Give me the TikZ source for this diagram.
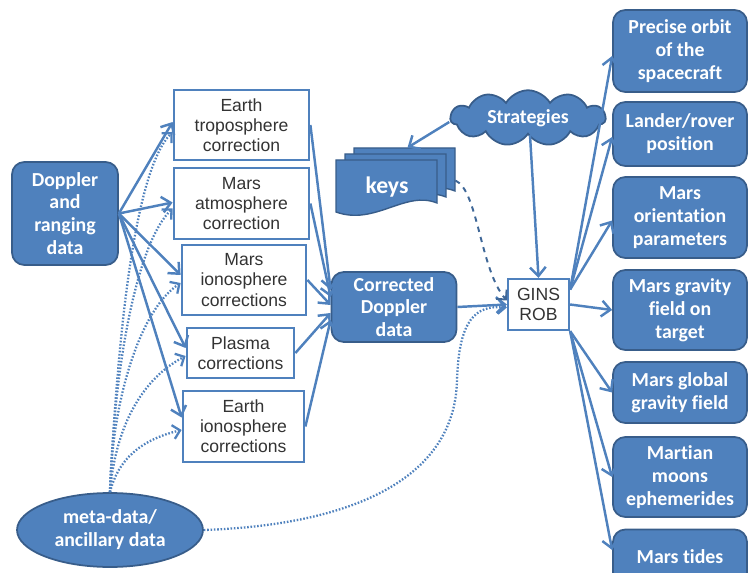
\documentclass[tikz,border=0pt]{standalone}
\usepackage{fontspec}
\setmainfont{Liberation Sans}
\newfontfamily\calib[Ligatures=NoCommon]{Carlito}
\usetikzlibrary{arrows.meta,shapes.geometric,shapes.symbols}
\definecolor{offblue}{HTML}{4F81BD}
\definecolor{offdark}{HTML}{385D8A}
\definecolor{boxtext}{HTML}{333333}

\begin{document}
\begin{tikzpicture}[x=0.02cm, y=0.02cm,
    bluebox/.style={draw=offdark, line width=1pt, fill=offblue, rounded corners=7pt, text=white,
      font=\calib\bfseries\fontsize{11.3}{13}\selectfont, align=center, inner sep=0pt},
    whitebox/.style={draw=offblue, line width=1.6pt, fill=white, text=boxtext,
      font=\fontsize{10}{11.5}\selectfont, align=center, inner sep=0pt},
    flowarrow/.style={draw=offblue, line width=1.4pt, -{Straight Barb[length=5pt,width=9pt]}},
    anclink/.style={draw=offblue, line width=1.3pt, dash pattern=on 0.9pt off 1pt, -{Straight Barb[length=4pt,width=8pt]}},
    keylink/.style={draw=offblue!80!black, line width=1.1pt, dashed, -{Straight Barb[length=4pt,width=8pt]}},
  ]
            \useasboundingbox (0,0) rectangle (749,-573);
            \foreach \dx/\dy in {18/12, 9/6, 0/0}
              \filldraw[fill=offblue, draw=offdark, line width=0.8pt, shift={(\dx,\dy)}]
                (336,-160) -- (437,-160) -- (437,-203) .. controls (405,-190) and (375,-226) .. (336,-212) -- cycle;
            \draw (395.5,-180.5) node[minimum width=2.38cm, minimum height=1.3cm, inner sep=0pt] (keys) {};
            \draw (387,-187) node[text=white, font=\calib\bfseries\fontsize{13.5}{15}\selectfont] (keystxt) {keys};

            \draw (65,-213.5) node[bluebox, minimum width=2.12cm, minimum height=2.06cm] (dopp) {Doppler\\and\\ranging\\data};
            \draw (110,-530) node[bluebox, ellipse, rounded corners=0pt, minimum width=3.72cm, minimum height=1.48cm] (meta) {meta-data/\\ancillary data};
            \draw (241.5,-125) node[whitebox, minimum width=2.7cm, minimum height=1.4cm] (etropo) {Earth\\troposphere\\correction};
            \draw (241.5,-203.5) node[whitebox, minimum width=2.7cm, minimum height=1.42cm] (matmo) {Mars\\atmosphere\\correction};
            \draw (244,-280) node[whitebox, minimum width=2.48cm, minimum height=1.4cm] (mion) {Mars\\ionosphere\\corrections};
            \draw (240.5,-353) node[whitebox, minimum width=2.14cm, minimum height=1.0cm] (plasma) {Plasma\\corrections};
            \draw (243.5,-426.5) node[whitebox, minimum width=2.42cm, minimum height=1.42cm] (eion) {Earth\\ionosphere\\corrections};
            \draw (394,-307) node[bluebox, minimum width=2.5cm, minimum height=1.4cm] (corr) {Corrected\\Doppler\\data};
            \draw (538.5,-304.5) node[whitebox, line width=1.3pt, font=\fontsize{10}{11}\selectfont, minimum width=1.22cm, minimum height=1.02cm] (gins) {GINS\\ROB};
            \draw (528,-118) node[bluebox, cloud, cloud puffs=11, cloud puff arc=120, aspect=3, rounded corners=0pt,
                  minimum width=3.1cm, minimum height=1.05cm] (strat) {Strategies};

            \draw (680,-51) node[bluebox, minimum width=2.68cm, minimum height=1.64cm] (orbit) {Precise orbit\\of the\\spacecraft};
            \draw (680,-134) node[bluebox, minimum width=2.68cm, minimum height=1.28cm] (lander) {Lander/rover\\position};
            \draw (680,-217.5) node[bluebox, minimum width=2.68cm, minimum height=1.62cm] (orient) {Mars\\orientation\\parameters};
            \draw (680,-310) node[bluebox, minimum width=2.68cm, minimum height=1.6cm] (gtarget) {Mars gravity\\field on\\target};
            \draw (680,-392.5) node[bluebox, minimum width=2.68cm, minimum height=1.22cm] (gglobal) {Mars global\\gravity field};
            \draw (680,-477) node[bluebox, minimum width=2.68cm, minimum height=1.6cm] (moons) {Martian\\moons\\ephemerides};
            \draw (680,-557) node[bluebox, minimum width=2.68cm, minimum height=1.1cm] (tides) {Mars tides};

            \draw[flowarrow] (dopp.east) -- ([yshift=0.06cm]etropo.west);
            \draw[flowarrow] (dopp.east) -- ([yshift=0.02cm]matmo.west);
            \draw[flowarrow] (dopp.east) -- ([yshift=0.1cm]mion.west);
            \draw[flowarrow] (dopp.east) -- ([yshift=0.1cm]plasma.west);
            \draw[flowarrow] (dopp.east) -- ([yshift=0.18cm]eion.west);

            \draw[anclink] (meta.north) .. controls (118,-330) and (135,-170) .. ([yshift=-0.14cm]etropo.west);
            \draw[anclink] (meta.north) .. controls (115,-350) and (140,-240) .. ([yshift=-0.1cm]matmo.west);
            \draw[anclink] (meta.north) .. controls (112,-400) and (140,-310) .. ([yshift=-0.06cm]mion.west);
            \draw[anclink] (meta.north) .. controls (115,-430) and (140,-380) .. ([yshift=-0.06cm]plasma.west);
            \draw[anclink] (meta.north) .. controls (118,-460) and (140,-440) .. ([yshift=-0.07cm]eion.west);
            \draw[anclink] (meta.east) .. controls (350,-525) and (455,-480) .. (457,-380)
                  .. controls (459,-320) and (475,-305) .. ([yshift=-0.06cm]gins.west);

            \draw[flowarrow] (etropo.east) -- ([yshift=0.34cm]corr.west);
            \draw[flowarrow] (matmo.east) -- ([yshift=0.2cm]corr.west);
            \draw[flowarrow] (mion.east) -- ([yshift=0.04cm]corr.west);
            \draw[flowarrow] (plasma.east) -- ([yshift=-0.12cm]corr.west);
            \draw[flowarrow] (eion.east) -- ([yshift=-0.26cm]corr.west);
            \draw[flowarrow] (corr.east) -- (gins.west);

            \draw[keylink] (keys.east) .. controls (478,-190) and (480,-270) .. ([yshift=0.08cm]gins.west);
            \draw[flowarrow] ([yshift=-0.08cm]strat.west) -- ([xshift=0.24cm]keys.north);
            \draw[flowarrow] ([xshift=0.04cm]strat.south) -- (gins.north);

            \draw[flowarrow] ([yshift=0.3cm]gins.east) -- ([yshift=-0.1cm]orbit.west);
            \draw[flowarrow] ([yshift=0.3cm]gins.east) -- ([yshift=-0.06cm]lander.west);
            \draw[flowarrow] ([yshift=0.3cm]gins.east) -- ([yshift=-0.06cm]orient.west);
            \draw[flowarrow] (gins.east) -- (gtarget.west);
            \draw[flowarrow] (gins.south east) -- (gglobal.west);
            \draw[flowarrow] (gins.south east) -- (moons.west);
            \draw[flowarrow] (gins.south east) -- ([yshift=0.14cm]tides.west);
        \end{tikzpicture}
\end{document}
